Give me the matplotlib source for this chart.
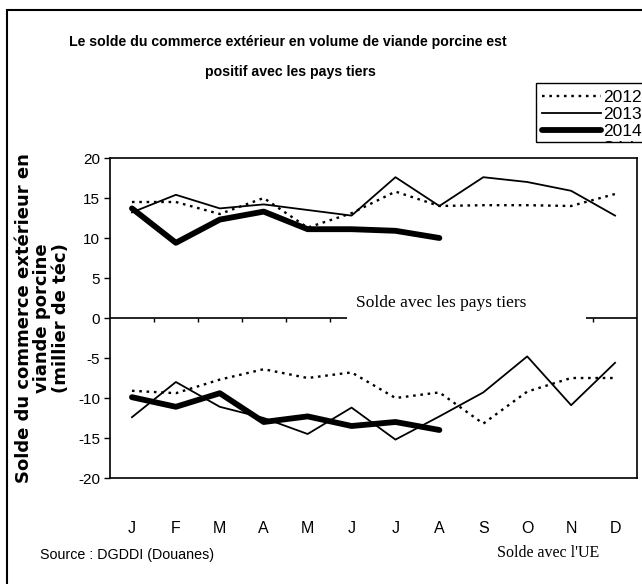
import numpy as np
import matplotlib
matplotlib.use("Agg")
import matplotlib.pyplot as plt
from matplotlib.patches import Rectangle
from matplotlib.lines import Line2D

# --- data (milliers de téc) ---
months = ['J', 'F', 'M', 'A', 'M', 'J', 'J', 'A', 'S', 'O', 'N', 'D']
tiers_2012 = [14.5, 14.5, 13.0, 15.0, 11.3, 13.1, 15.8, 14.0, 14.1, 14.1, 14.0, 15.5]
tiers_2013 = [13.2, 15.4, 13.7, 14.2, 13.5, 12.8, 17.6, 14.0, 17.6, 17.0, 15.9, 12.8]
tiers_2014 = [13.7, 9.4, 12.3, 13.3, 11.1, 11.1, 10.9, 10.0]
ue_2012 = [-9.1, -9.4, -7.7, -6.4, -7.5, -6.8, -10.0, -9.3, -13.2, -9.2, -7.5, -7.5]
ue_2013 = [-12.4, -8.0, -11.1, -12.5, -14.5, -11.2, -15.2, -12.3, -9.3, -4.8, -10.9, -5.6]
ue_2014 = [-9.9, -11.1, -9.4, -13.0, -12.3, -13.5, -13.0, -14.0]
yticks = [-20, -15, -10, -5, 0, 5, 10, 15, 20]
legend_labels = ['2012', '2013', '2014', 'Série 4']

SANS = ['Liberation Sans', 'DejaVu Sans']
SERIF = ['Liberation Serif', 'DejaVu Serif']

W, H = 642, 584
fig = plt.figure(figsize=(W / 100, H / 100), dpi=100)
ax = fig.add_axes([110 / W, 1 - 478 / H, 527 / W, 320 / H])

x = np.arange(len(months))
styles = {
    '2012': dict(color='black', lw=1.7, ls=(0, (1.1, 2.0))),
    '2013': dict(color='black', lw=1.3, ls='-'),
    '2014': dict(color='black', lw=4.2, ls='-', solid_capstyle='round'),
    'Série 4': dict(color='none'),
}
ax.plot(x, tiers_2012, zorder=4, **styles['2012'])
ax.plot(x, tiers_2013, zorder=4, **styles['2013'])
ax.plot(x[:len(tiers_2014)], tiers_2014, zorder=5, **styles['2014'])
ax.plot(x, ue_2012, zorder=4, **styles['2012'])
ax.plot(x, ue_2013, zorder=4, **styles['2013'])
ax.plot(x[:len(ue_2014)], ue_2014, zorder=5, **styles['2014'])

# zero line with category ticks
ax.axhline(0, color='black', lw=1.2, zorder=2)
ax.vlines(np.arange(0.5, 11.5), -0.55, 0, color='black', lw=1.0, zorder=2)

ax.set_xlim(-0.5, 11.5)
ax.set_ylim(-20, 20)
ax.set_yticks(yticks)
ax.set_yticklabels([str(v) for v in yticks], family=SANS, fontsize=11)
ax.tick_params(axis='y', direction='out', length=4, width=1, pad=3)
ax.set_xticks(x)
ax.set_xticklabels(months, family=SANS, fontsize=11.5)
ax.tick_params(axis='x', length=0, pad=31)
for s in ax.spines.values():
    s.set_linewidth(1.2)
    s.set_color('black')

# white box behind inner label
ax.add_patch(Rectangle((4.89, -1.2), 5.45, 4.6, fc='white', ec='none', zorder=3))
ax.text(7.05, 1.9, 'Solde avec les pays tiers', family=SERIF, fontsize=12.5,
        ha='center', va='center', zorder=6)

ax.set_ylabel('Solde du commerce extérieur en\nviande porcine\n(millier de téc)',
              family=['DejaVu Sans'], fontweight='bold', fontsize=13, linespacing=1.05)
ax.yaxis.set_label_coords((70 - 110) / 527, 0.5)

# title
fig.text(288 / W, 1 - 42 / H, 'Le solde du commerce extérieur en volume de viande porcine est',
         family=SANS, fontweight='bold', fontsize=10.2, ha='center', va='center')
fig.text(290 / W, 1 - 72 / H, 'positif avec les pays tiers',
         family=SANS, fontweight='bold', fontsize=10.2, ha='center', va='center')

# legend (box is cut off on the right and bottom, like the source)
leg_box = Rectangle((536 / W, 1 - 142 / H), 0.2, 59 / H, transform=fig.transFigure,
                    fill=False, ec='black', lw=1.0)
fig.patches.append(leg_box)
handles = [Line2D([], [], **styles[k]) for k in legend_labels]
leg = fig.legend(handles, legend_labels, loc='upper left',
                 bbox_to_anchor=(537 / W, 1 - 85 / H), frameon=False,
                 prop={'family': SANS, 'size': 12.5},
                 handlelength=3.4, handletextpad=0.1, labelspacing=0.1,
                 borderpad=0.3, borderaxespad=0)
for t in leg.get_texts():
    t.set_clip_path(leg_box)

# footer
fig.text(40 / W, 1 - 555 / H, 'Source : DGDDI (Douanes)', family=SANS, fontsize=10.3,
         ha='left', va='center')
fig.text(497 / W, 1 - 553 / H, "Solde avec l'UE", family=SERIF, fontsize=11.5,
         ha='left', va='center')

# outer frame
fig.patches.append(Rectangle((7 / W, -0.1), 1.2, 1 - 10 / H + 0.1, transform=fig.transFigure,
                             fill=False, ec='black', lw=1.5))

fig.savefig('out.png', dpi=100)
